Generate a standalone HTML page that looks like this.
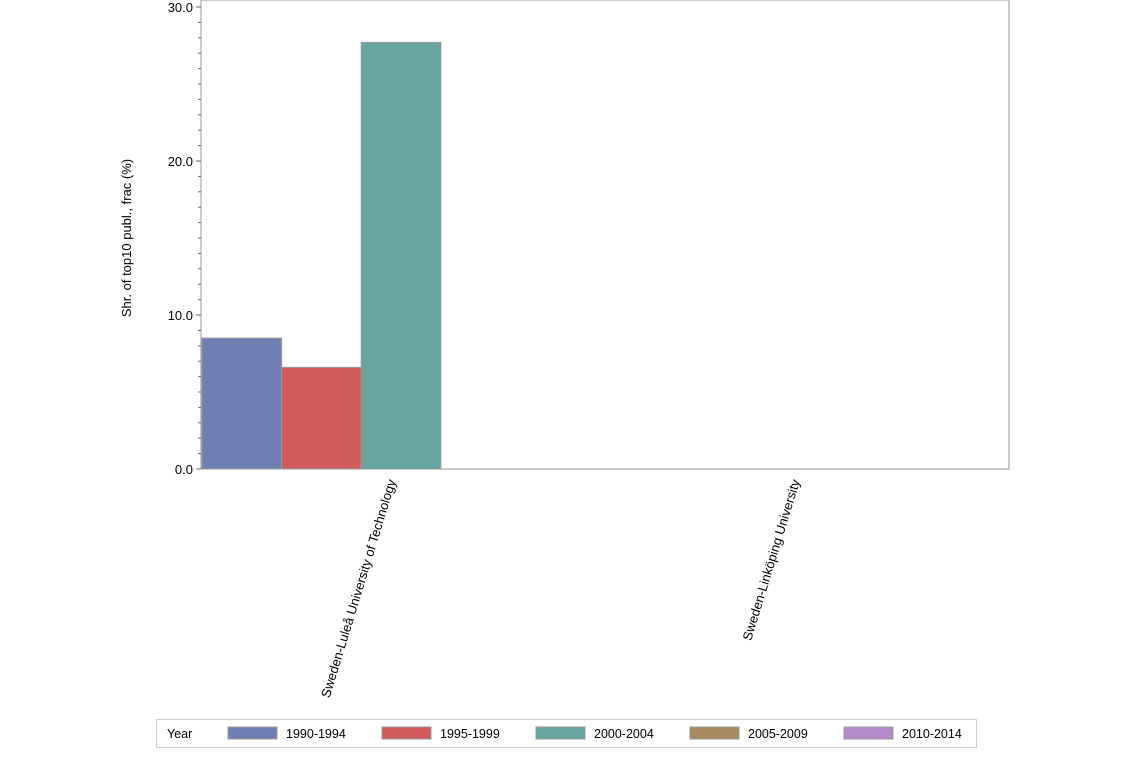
<!DOCTYPE html>
<html><head><meta charset="utf-8"><style>
body{margin:0;background:#fff;font-family:"Liberation Sans",sans-serif;}
svg text{font-family:"Liberation Sans",sans-serif;font-size:13px;fill:#000;}
svg text.lg{font-size:12.5px;}
</style></head><body>
<svg id="c" width="1134" height="756"></svg>
<script>
const categories=["Sweden-Luleå University of Technology","Sweden-Linköping University"];
const seriesNames=["1990-1994","1995-1999","2000-2004","2005-2009","2010-2014"];
const colors=["#6f7eb3","#d05b5b","#66a5a0","#a88a5e","#b68acb"];
const values=[[8.5,6.6,27.7,null,null],[null,null,null,null,null]];
const yTicks=[0,10,20,30];
const yTickLabels=["0.0","10.0","20.0","30.0"];
const NS="http://www.w3.org/2000/svg",svg=document.getElementById('c');
const L=201,R=1009,T=0,B=469,ymax=30,y0=7;
const y=v=>B-(v/ymax)*(B-y0);
const cw=(R-L)/categories.length,bw=79.6;
function mk(t,a,p){const e=document.createElementNS(NS,t);for(const k in a)e.setAttribute(k,a[k]);(p||svg).appendChild(e);return e;}
let f=mk('rect',{x:L,y:T,width:R-L,height:B-T,fill:'none',stroke:'#999'});


for(let v=0;v<=ymax;v++){const t=mk('line',{x1:L-(v%10?3:5),x2:L,y1:y(v),y2:y(v),stroke:'#666'});

}
yTicks.forEach((v,i)=>{const t=mk('text',{x:L-8,y:y(v)+5,'text-anchor':'end'});t.textContent=yTickLabels[i];

});
const yt=mk('text',{transform:'translate(131,238) rotate(-90)','text-anchor':'middle'});yt.textContent='Shr. of top10 publ., frac (%)';


categories.forEach((c,ci)=>{
 values[ci].forEach((v,si)=>{if(v==null)return;
  const b=mk('rect',{x:L+ci*cw+1+si*bw,y:y(v),width:bw,height:B-y(v),fill:colors[si],stroke:'#999','stroke-width':1});
  
  });
 const cx=L+ci*cw+cw/2-7;
 const t=mk('text',{transform:`translate(${cx},481) rotate(-73)`,'text-anchor':'end'});t.textContent=c;
 
 
});
const lg=mk('g',{});


mk('rect',{x:156.5,y:719.5,width:820,height:28,fill:'#fff',stroke:'#ccc'},lg);
const lt=mk('text',{x:167,y:738,class:'lg'},lg);lt.textContent='Year';


seriesNames.forEach((n,i)=>{const x0=228+i*154;
 const s=mk('rect',{x:x0,y:727,width:49,height:12,fill:colors[i],stroke:'#999'},lg);
 
 
 const t=mk('text',{x:x0+58,y:738,class:'lg'},lg);t.textContent=n;
 
 });
</script></body></html>
